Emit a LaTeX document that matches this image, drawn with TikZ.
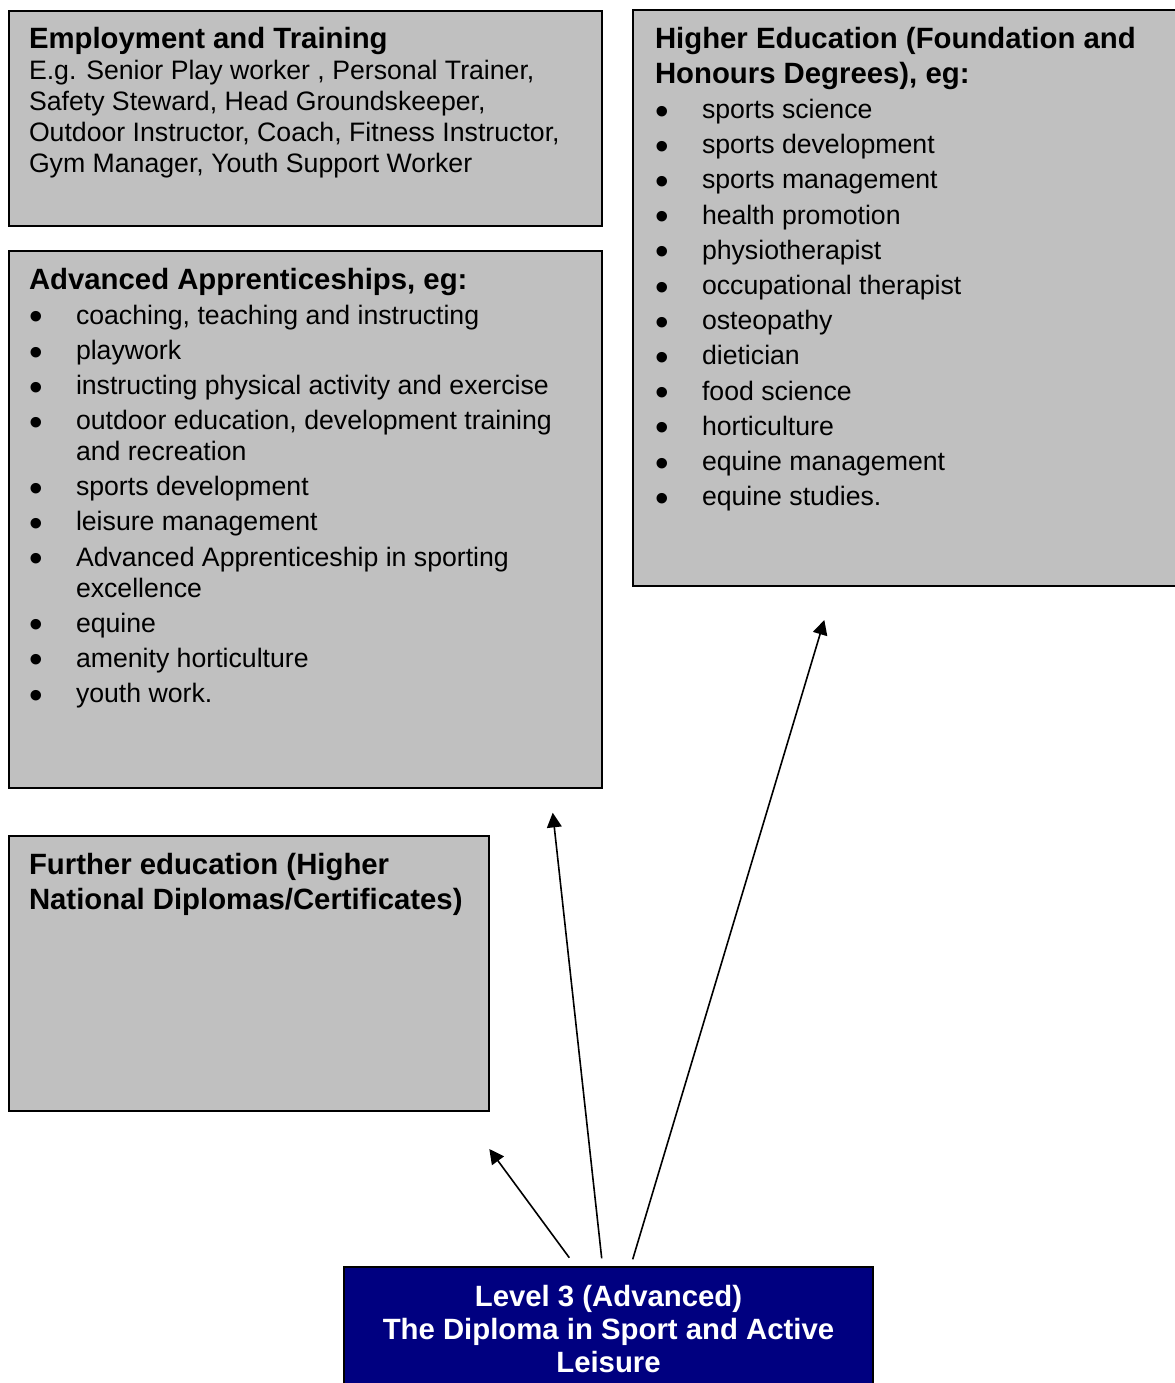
\documentclass[tikz,border=0pt]{standalone}
\usepackage{fontspec}
\setmainfont{Liberation Sans}
\usetikzlibrary{arrows.meta}

\definecolor{boxgray}{HTML}{C0C0C0}
\definecolor{diplomablue}{HTML}{000080}

% bullet column and hanging indent for list items
\newcommand\bul{\makebox[35.25pt][l]{\raisebox{-4.2pt}{\fontsize{29}{29}\selectfont\textbullet}}}
\newcommand\hang{\hangindent=35.25pt\hangafter=1\relax}
\newcommand\regfont{\fontsize{20}{23.25}\selectfont\mdseries}
\newcommand\headfont[1]{\fontsize{22}{#1}\selectfont\bfseries}

\begin{document}
\begin{tikzpicture}[x=0.75pt,y=-0.75pt,
  panel/.style={draw=black,line width=1.5pt,fill=boxgray,rectangle,anchor=north west,inner sep=0pt,outer sep=0pt},
  diploma/.style={panel,fill=diplomablue},
  label/.style={anchor=base west,inner sep=0pt,outer sep=0pt},
  route/.style={line width=1.2pt,-{Triangle[length=11pt,width=11pt]}}]
\useasboundingbox (0,0) rectangle (1174,1383);

% panels
\node[panel,minimum width=593.5*0.75pt,minimum height=215.5*0.75pt] (emp) at (8.5,11) {};
\node[panel,minimum width=593.5*0.75pt,minimum height=537*0.75pt] (adv) at (8.5,251) {};
\node[panel,minimum width=480.5*0.75pt,minimum height=275*0.75pt] (fe) at (8.5,836) {};
\node[panel,minimum width=552*0.75pt,minimum height=575.5*0.75pt] (he) at (633,10.5) {};
\node[diploma,minimum width=529*0.75pt,minimum height=133*0.75pt] (dip) at (344,1267) {};

% employment and training
\node[label] (empText) at (29,48.5) {\begin{minipage}[t]{426pt}
\headfont{26.25}Employment and Training\par
\regfont\vspace{-0.2pt}
E.g. Senior Play worker , Personal Trainer,\\
Safety Steward, Head Groundskeeper,\\
Outdoor Instructor, Coach, Fitness Instructor,\\
Gym Manager, Youth Support Worker
\end{minipage}};

% advanced apprenticeships
\node[label] (advText) at (29,289.5) {\begin{minipage}[t]{426pt}
\headfont{26.25}Advanced Apprenticeships, eg:\par
\regfont\setlength\parskip{3.1pt}\vspace{-0.25pt}
\hang\bul coaching, teaching and instructing\par
\hang\bul playwork\par
\hang\bul instructing physical activity and exercise\par
\hang\bul outdoor education, development training\\and recreation\par
\hang\bul sports development\par
\hang\bul leisure management\par
\hang\bul Advanced Apprenticeship in sporting\\excellence\par
\hang\bul equine\par
\hang\bul amenity horticulture\par
\hang\bul youth work.\par
\end{minipage}};

% further education
\node[label] (feText) at (29,874) {\begin{minipage}[t]{345pt}
\headfont{26.25}Further education (Higher\\
National Diplomas/Certificates)
\end{minipage}};

% higher education
\node[label] (heText) at (655,48.5) {\begin{minipage}[t]{380pt}
\headfont{26.25}Higher Education (Foundation and\\
Honours Degrees), eg:\par
\regfont\setlength\parskip{3.15pt}\vspace{-0.15pt}
\hang\bul sports science\par
\hang\bul sports development\par
\hang\bul sports management\par
\hang\bul health promotion\par
\hang\bul physiotherapist\par
\hang\bul occupational therapist\par
\hang\bul osteopathy\par
\hang\bul dietician\par
\hang\bul food science\par
\hang\bul horticulture\par
\hang\bul equine management\par
\hang\bul equine studies.\par
\end{minipage}};

% diploma
\node[anchor=base,inner sep=0pt,outer sep=0pt,text=white] (dipText) at (608.5,1306.5) {\begin{minipage}[t]{396.75pt}
\centering\fontsize{22}{24.9}\selectfont\bfseries
Level 3 (Advanced)\\
The Diploma in Sport and Active\\
Leisure
\end{minipage}};

% progression routes
\coordinate (s1) at (569.3,1257.7);
\coordinate (t1) at (489.3,1149);
\coordinate (s2) at (601.7,1258.3);
\coordinate (t2) at (552.7,812.7);
\coordinate (s3) at (632.7,1259.3);
\coordinate (t3) at (824.3,620);
\draw[route] (s1) -- (t1);
\draw[route] (s2) -- (t2);
\draw[route] (s3) -- (t3);
\end{tikzpicture}
\end{document}
